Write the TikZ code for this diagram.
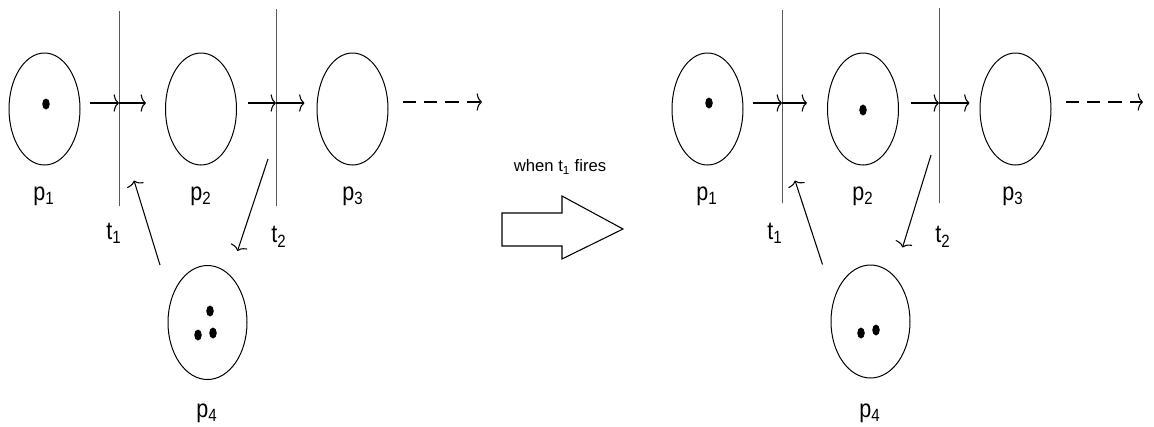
\documentclass[tikz,border=0pt]{standalone}
\usepackage{fontspec}
\setmainfont{Liberation Sans}
\newfontfamily\narrowfont[FakeStretch=0.85]{Liberation Sans}
\usetikzlibrary{arrows.meta,shapes.geometric,calc}
\begin{document}
\def\u{0.75pt}
\begin{tikzpicture}[x=0.75pt,y=-0.75pt,
 place/.style={draw, ellipse, line width=0.75pt, minimum width=71*\u, minimum height=112*\u, inner sep=0},
 bigplace/.style={place, minimum width=79*\u, minimum height=114*\u},
 trans/.style={draw, line width=0.75pt, minimum width=0pt, inner sep=0pt, minimum height=#1*\u},
 token/.style={fill, ellipse, minimum width=7.5*\u, minimum height=11*\u, inner sep=0pt},
 arr/.style={-{To[length=4pt,width=13pt]}, line width=0.8pt},
 dasharr/.style={arr, dash pattern=on 10pt off 6pt},
 lab/.style={font=\narrowfont\fontsize{19}{21}\selectfont, inner sep=0pt},
]
\useasboundingbox (0,0) rectangle (1154,426);

% ---------- left net ----------
\node[place] (p1) at (44.5,109) {};
\node[place] (p2) at (201,109) {};
\node[place] (p3) at (352.5,109) {};
\node[bigplace] (p4) at (207.5,322.5) {};
\node[trans=195] (t1) at (119,108.5) {};
\node[trans=197] (t2) at (276,107.5) {};

\node[token] (k1) at (46,104) {};
\node[token] (k2) at (210,311) {};
\node[token] (k3) at (198,335) {};
\node[token] (k4) at (213,333) {};

\node[lab] (lp1) at (44,196) {p\textsubscript{1}};
\node[lab] (lp2) at (201,196) {p\textsubscript{2}};
\node[lab] (lp3) at (353,196) {p\textsubscript{3}};
\node[lab] (lt1) at (114,233) {t\textsubscript{1}};
\node[lab] (lt2) at (279,237) {t\textsubscript{2}};
\node[lab] (lp4) at (207,413) {p\textsubscript{4}};

\coordinate (a1) at ($(p1.east)+(9,-6)$);
\draw[arr] (a1) -- (a1 -| t1);
\draw[arr] (a1 -| t1) -- ($(a1 -| p2.west)+(-19,0)$);
\coordinate (a2) at ($(p2.east)+(11,-6)$);
\draw[arr] (a2) -- (a2 -| t2);
\draw[arr] (a2 -| t2) -- ($(a2 -| p3.west)+(-12,0)$);
\draw[arr] ($(p4.north)+(-47.5,0)$) -- ($(t1.south)+(15,-26)$);
\draw[arr] ($(t2.center)+(-8,51.5)$) -- ($(p4.north)+(30,-14)$);
\coordinate (d1) at (482,102);
\draw[dasharr] ($(p3.east)+(14,-7)$) -- (d1);

% ---------- big arrow ----------
\node[font=\fontsize{12.5}{14}\selectfont, inner sep=0pt] (when) at (560,167) {when t\textsubscript{1} fires};
\draw[line width=0.8pt] (502,213) -- (562,213) -- (562,196) -- (623,229) -- (562,259) -- (562,246) -- (502,246) -- cycle;

% ---------- right net ----------
\node[place] (q1) at (707.5,109) {};
\node[place] (q2) at (863,109) {};
\node[place] (q3) at (1015.5,109) {};
\node[bigplace, minimum height=113*\u] (q4) at (870.5,321.5) {};
\node[trans=193] (u1) at (782,106.5) {};
\node[trans=195] (u2) at (939,105.5) {};

\node[token] (m1) at (709,103) {};
\node[token] (m2) at (863,110) {};
\node[token] (m3) at (861,333) {};
\node[token] (m4) at (876,330) {};

\node[lab] (lq1) at (707,196) {p\textsubscript{1}};
\node[lab] (lq2) at (863,196) {p\textsubscript{2}};
\node[lab] (lq3) at (1013,196) {p\textsubscript{3}};
\node[lab] (lu1) at (775,233) {t\textsubscript{1}};
\node[lab] (lu2) at (943,237) {t\textsubscript{2}};
\node[lab] (lq4) at (870,413) {p\textsubscript{4}};

\coordinate (b1) at ($(q1.east)+(9,-6)$);
\draw[arr] (b1) -- (b1 -| u1);
\draw[arr] (b1 -| u1) -- ($(b1 -| q2.west)+(-20,0)$);
\coordinate (b2) at ($(q2.east)+(12,-6)$);
\draw[arr] (b2) -- (b2 -| u2);
\draw[arr] (b2 -| u2) -- ($(b2 -| q3.west)+(-10,0)$);
\draw[arr] ($(q4.north)+(-48,0)$) -- ($(u1.south)+(13,-23)$);
\draw[arr] ($(u2.center)+(-8,49.5)$) -- ($(q4.north)+(32,-17)$);
\coordinate (d2) at (1143,102);
\draw[dasharr] ($(q3.east)+(14,-7)$) -- (d2);
\end{tikzpicture}
\end{document}
